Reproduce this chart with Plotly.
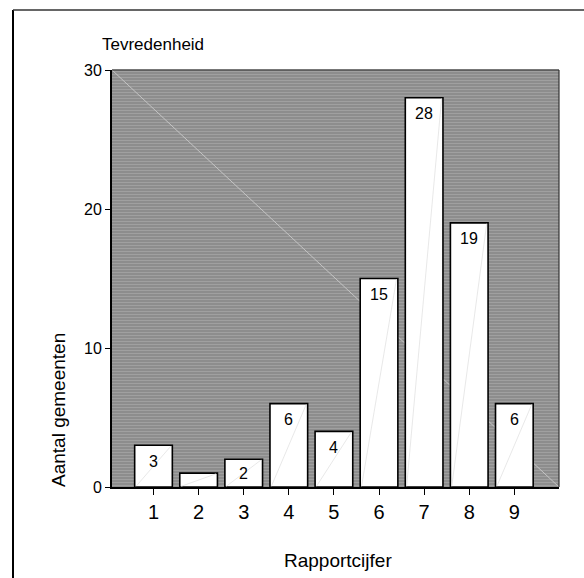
import plotly.graph_objects as go

# Rapportcijfer (1-9) and number of municipalities giving that grade
grades = [1, 2, 3, 4, 5, 6, 7, 8, 9]
counts = [3, 1, 2, 6, 4, 15, 28, 19, 6]

title_text = "Tevredenheid"
x_title = "Rapportcijfer"
y_title = "Aantal gemeenten"
y_ticks = [0, 10, 20, 30]

W, H = 584, 578
ML, MR, MT, MB = 112, 25, 70, 91
plot_w = W - ML - MR
plot_h = H - MT - MB
x_range = [0.08, 9.99]
y_range = [0, 30]
bar_w = 0.835
px_per_unit = plot_h / (y_range[1] - y_range[0])

FONT = "Liberation Sans, Arial, sans-serif"


def px_x(px):
    return (px - ML) / plot_w


def px_y(px):
    return (MT + plot_h - px) / plot_h


fig = go.Figure()

fig.add_trace(go.Bar(
    x=grades, y=counts, width=bar_w,
    marker=dict(color="white", line=dict(color="black", width=1.6)),
    showlegend=False, hoverinfo="x+y",
))

# faint diagonal inside each bar, bottom-left to top-right
dx, dy = [], []
for g, c in zip(grades, counts):
    dx += [g - bar_w / 2 + 0.03, g + bar_w / 2 - 0.03, None]
    dy += [0.05, c - 0.05, None]
fig.add_trace(go.Scatter(
    x=dx, y=dy, mode="lines", line=dict(color="#e2e2e2", width=0.8),
    hoverinfo="skip", showlegend=False,
))

shapes = []
# horizontal hatch stripes of the plot background
step = 3.0 / plot_h
k = 0
while k * step <= 1.0:
    yy = k * step
    shapes.append(dict(type="line", xref="paper", yref="paper",
                       x0=0, x1=1, y0=yy, y1=yy, layer="below",
                       line=dict(color="#7a7a7a", width=1)))
    k += 1

# faint diagonal across the background, behind the bars
shapes.append(dict(type="line", xref="paper", yref="paper", x0=0, x1=1, y0=1, y1=0,
                   layer="below", line=dict(color="#c4c4c4", width=1)))

# top and right edges of the plot box
shapes.append(dict(type="line", xref="paper", yref="paper", x0=0, x1=1, y0=1, y1=1,
                   line=dict(color="#333333", width=1.2)))
shapes.append(dict(type="line", xref="paper", yref="paper", x0=1, x1=1, y0=0, y1=1,
                   line=dict(color="#333333", width=1.2)))

# outer frame (left and top)
fl, ft, fb, fr = px_x(13), px_y(10), px_y(H + 2), px_x(W + 2)
shapes.append(dict(type="line", xref="paper", yref="paper", x0=fl, x1=fl, y0=fb, y1=ft,
                   line=dict(color="black", width=2)))
shapes.append(dict(type="line", xref="paper", yref="paper", x0=fl, x1=fr, y0=ft, y1=ft,
                   line=dict(color="#333333", width=1.5)))

annotations = [
    dict(text=title_text, xref="paper", yref="paper", x=px_x(100), y=px_y(45),
         xanchor="left", yanchor="middle", showarrow=False,
         font=dict(family=FONT, size=17, color="black")),
    dict(text=y_title, xref="paper", yref="paper", x=px_x(58), y=px_y(410),
         xanchor="center", yanchor="middle", textangle=-90, showarrow=False,
         font=dict(family=FONT, size=19, color="black")),
    dict(text=x_title, xref="paper", yref="paper", x=px_x(338), y=px_y(560),
         xanchor="center", yanchor="middle", showarrow=False,
         font=dict(family=FONT, size=19, color="black")),
]

# value labels near the top of each bar (too-short bars stay unlabelled)
label_off = 16 / px_per_unit
for g, c in zip(grades, counts):
    if c <= 1:
        continue
    annotations.append(dict(
        text=str(c), x=g, y=max(c - label_off, c / 2), xref="x", yref="y",
        xanchor="center", yanchor="middle", showarrow=False,
        font=dict(family=FONT, size=16, color="black"),
    ))

fig.update_layout(
    width=W, height=H,
    margin=dict(l=ML, r=MR, t=MT, b=MB),
    paper_bgcolor="white",
    plot_bgcolor="#a0a0a0",
    font=dict(family=FONT, color="black"),
    shapes=shapes,
    annotations=annotations,
    xaxis=dict(
        range=x_range, tickvals=grades, ticktext=[str(g) for g in grades],
        showgrid=False, zeroline=False,
        showline=True, linecolor="black", linewidth=2,
        ticks="outside", ticklen=6, tickwidth=1.2, tickcolor="black",
        tickfont=dict(family=FONT, size=20, color="black"),
    ),
    yaxis=dict(
        range=y_range, tickvals=y_ticks,
        showgrid=False, zeroline=False,
        showline=True, linecolor="black", linewidth=2,
        ticks="outside", ticklen=5, tickwidth=1.2, tickcolor="black",
        tickfont=dict(family=FONT, size=16, color="black"),
    ),
)

fig.write_html("out.html")
